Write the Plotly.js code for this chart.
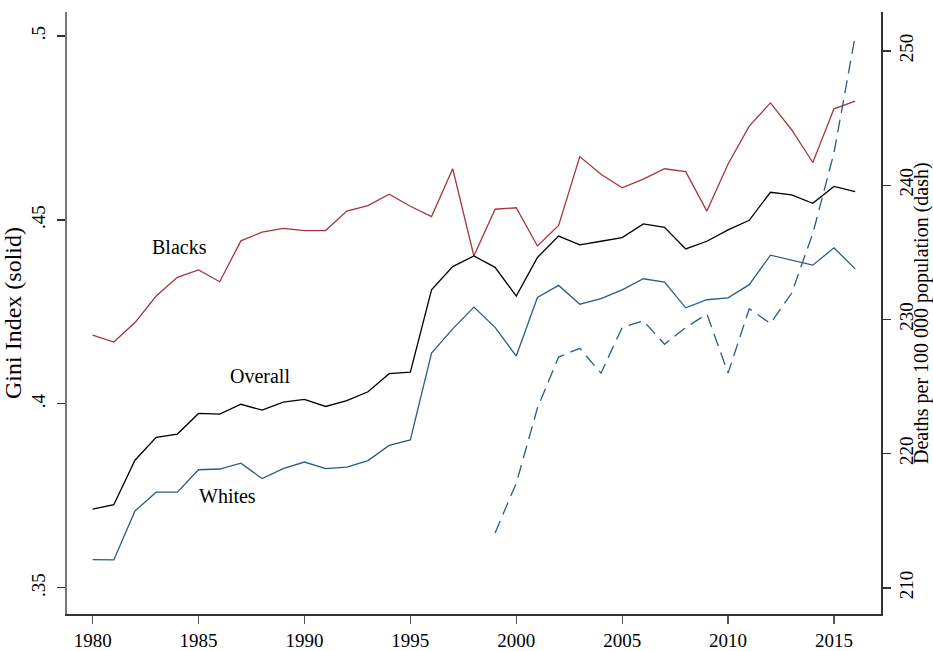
<!DOCTYPE html>
<html>
<head>
<meta charset="utf-8">
<script src="https://cdn.plot.ly/plotly-3.0.1.min.js"></script>
<style>
  html, body { margin:0; padding:0; background:#fff; }
  #chartdiv { width:933px; height:651px; }
</style>
</head>
<body>
<div id="chartdiv"></div>
<script>
// years 1980-2016
const years = [1980,1981,1982,1983,1984,1985,1986,1987,1988,1989,1990,1991,1992,1993,1994,1995,1996,1997,1998,
  1999,2000,2001,2002,2003,2004,2005,2006,2007,2008,2009,2010,2011,2012,2013,2014,2015,2016];

// Gini index
const giniBlacks = [.4187,.4168,.4221,.4293,.4344,.4364,.4332,.4443,.4467,.4477,.4471,.4471,.4524,.4539,.4570,.4537,.4509,.4639,.4402,
  .4529,.4533,.4429,.4485,.4672,.4624,.4587,.4611,.4639,.4631,.4524,.4652,.4755,.4818,.4745,.4656,.4802,.4823];
const giniOverall = [.3714,.3726,.3847,.3909,.3918,.3974,.3972,.3999,.3983,.4005,.4012,.3993,.4009,.4033,.4082,.4086,.4310,.4373,.4402,
  .4371,.4293,.4398,.4456,.4432,.4442,.4452,.4489,.4480,.4421,.4442,.4473,.4499,.4575,.4568,.4545,.4591,.4577];
const giniWhites = [.3577,.3576,.3709,.3760,.3760,.3821,.3823,.3839,.3797,.3824,.3842,.3824,.3828,.3846,.3887,.3902,.4138,.4204,.4263,
  .4208,.4130,.4289,.4322,.4271,.4286,.4310,.4340,.4331,.4261,.4283,.4288,.4324,.4404,.4390,.4377,.4424,.4367];

// deaths per 100 000 (dashed), 1999-2016
const deathYears = [1999,2000,2001,2002,2003,2004,2005,2006,2007,2008,2009,2010,2011,2012,2013,2014,2015,2016];
const deaths = [214.1,217.8,223.4,227.2,227.85,226.0,229.4,229.9,228.15,229.4,230.4,226.0,230.8,229.7,231.95,236.4,242.4,251.1];

const giniTickVals = [.35,.4,.45,.5];
const giniTickText = ['.35','.4','.45','.5'];
const deathTickVals = [210,220,230,240,250];
const yearTicks = [1980,1985,1990,1995,2000,2005,2010,2015];

const red = '#a3363c';
const blue = '#2c5b86';
const font = 'Liberation Serif, Times New Roman, serif';

const data = [
  {x: years, y: giniBlacks, type:'scatter', mode:'lines', line:{color:red, width:1.3}, hoverinfo:'skip'},
  {x: years, y: giniOverall, type:'scatter', mode:'lines', line:{color:'#000', width:1.3}, hoverinfo:'skip'},
  {x: years, y: giniWhites, type:'scatter', mode:'lines', line:{color:blue, width:1.3}, hoverinfo:'skip'},
  {x: deathYears, y: deaths, yaxis:'y2', type:'scatter', mode:'lines', line:{color:blue, width:1.3, dash:'13px,7px'}, hoverinfo:'skip'},
];

const layout = {
  width: 933, height: 651,
  margin: {l:67, r:52, t:12, b:37},
  paper_bgcolor:'#fff', plot_bgcolor:'#fff',
  showlegend:false,
  font:{family:font, size:20, color:'#000'},
  xaxis:{
    range:[1978.79, 2017.22],
    tickvals:yearTicks,
    showgrid:false, zeroline:false,
    showline:true, linecolor:'#333', linewidth:1.5,
    ticks:'outside', ticklen:8, tickcolor:'#555', tickwidth:1.2,
    ticklabelstandoff:1,
    tickfont:{family:font, size:19}
  },
  yaxis:{
    range:[0.3429, 0.5065],
    tickvals:giniTickVals, ticktext:giniTickText,
    tickangle:-90,
    showgrid:false, zeroline:false,
    showline:true, linecolor:'#777', linewidth:2,
    ticks:'outside', ticklen:8, tickcolor:'#333', tickwidth:1.2,
    ticklabelstandoff:4,
    tickfont:{family:font, size:19},
    title:{text:'Gini Index (solid)', font:{family:font, size:24}, standoff:2}
  },
  yaxis2:{
    overlaying:'y', side:'right',
    range:[208.06, 252.9],
    tickvals:deathTickVals,
    tickangle:-90,
    showgrid:false, zeroline:false,
    showline:true, linecolor:'#333', linewidth:1.5,
    ticks:'outside', ticklen:8, tickcolor:'#333', tickwidth:1.2,
    ticklabelstandoff:0,
    tickfont:{family:font, size:19}
  },
  annotations:[
    // right axis title, placed by hand so it clears the tick labels
    {x:1.0491, y:0.5, xref:'paper', yref:'paper', xanchor:'center', yanchor:'middle', textangle:-90,
     text:'Deaths per 100 000 population (dash)', showarrow:false, font:{family:font, size:20}},
    {x:1984.08, y:.4427, xref:'x', yref:'y', text:'Blacks', showarrow:false, font:{family:font, size:20}},
    {x:1987.9, y:.4076, xref:'x', yref:'y', text:'Overall', showarrow:false, font:{family:font, size:20}},
    {x:1986.35, y:.3750, xref:'x', yref:'y', text:'Whites', showarrow:false, font:{family:font, size:20}}
  ]
};

Plotly.newPlot(chartdiv, data, layout, {staticPlot:true});
</script>
</body>
</html>
